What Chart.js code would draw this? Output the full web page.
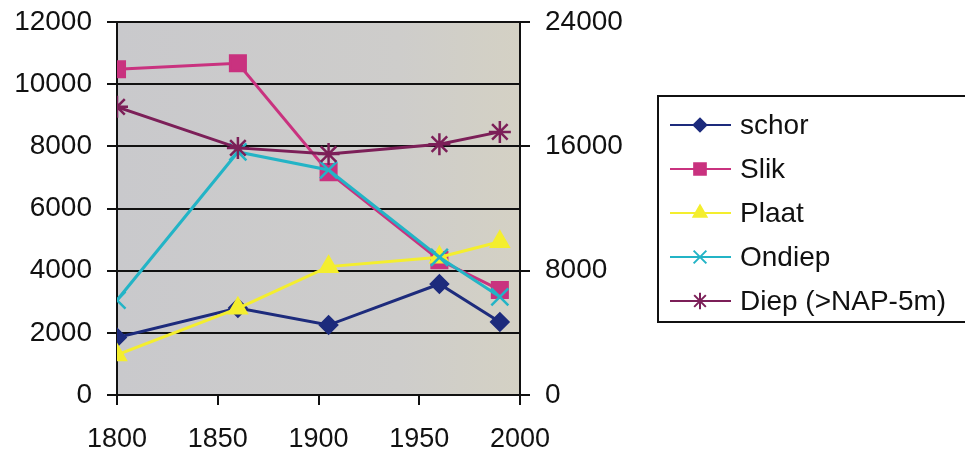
<!DOCTYPE html>
<html>
<head>
<meta charset="utf-8">
<script src="https://cdn.jsdelivr.net/npm/chart.js@4.4.0/dist/chart.umd.min.js"></script>
<style>
  html, body { margin: 0; padding: 0; background: #fff; }
  #wrap { width: 965px; height: 452px; position: relative; }
</style>
</head>
<body>
<div id="wrap"><canvas id="areaChart"></canvas></div>
<script>
// oppervlakte per zone (ha), Diep op de rechter as
const jaren  = [1800, 1860, 1905, 1960, 1990];
const schor  = [1850, 2800, 2250, 3570, 2350];
const slik   = [10480, 10670, 7170, 4340, 3380];
const plaat  = [1290, 2790, 4130, 4430, 4930];
const ondiep = [3050, 7820, 7240, 4430, 3160];
const diep   = [18540, 15900, 15500, 16140, 16930];

const FONT = "'Liberation Sans', Arial, sans-serif";

function punten(waarden) {
  return waarden.map((v, i) => ({ x: jaren[i], y: v }));
}

function reeks(label, waarden, kleur, stijl, straal, as, volgorde) {
  return {
    label: label,
    data: punten(waarden),
    borderColor: kleur,
    backgroundColor: kleur,
    borderWidth: 3,
    pointStyle: stijl,
    pointRadius: straal,
    pointBorderWidth: 2.5,
    pointBackgroundColor: kleur,
    pointBorderColor: kleur,
    yAxisID: as,
    order: volgorde,
    tension: 0
  };
}

// vaste breedte voor de y-assen, zonder extra ruimte boven/onder
function vastAs(breedte) {
  return s => {
    s.width = breedte;
    s.paddingTop = 0;
    s.paddingBottom = 0;
  };
}

// grijze achtergrond van het plotvlak
const achtergrond = {
  id: 'achtergrond',
  beforeDraw(chart) {
    const { ctx, chartArea: a } = chart;
    const g = ctx.createLinearGradient(a.left, 0, a.right, 0);
    g.addColorStop(0, '#c9c9cc');
    g.addColorStop(0.7, '#cecdcb');
    g.addColorStop(1, '#d4d1c4');
    ctx.save();
    ctx.fillStyle = g;
    ctx.fillRect(a.left, a.top, a.right - a.left, a.bottom - a.top);
    ctx.restore();
  }
};

// legenda met lijnstukje + marker, in een kader rechts
const legenda = {
  id: 'legenda',
  afterDraw(chart) {
    const ctx = chart.ctx;
    ctx.save();
    ctx.strokeStyle = '#111';
    ctx.lineWidth = 2;
    ctx.strokeRect(658, 96, 320, 226);
    chart.data.datasets.forEach((ds, i) => {
      const y = 125 + i * 44;
      ctx.strokeStyle = ds.borderColor;
      ctx.fillStyle = ds.borderColor;
      ctx.lineWidth = 2;
      ctx.beginPath();
      ctx.moveTo(670, y);
      ctx.lineTo(731, y);
      ctx.stroke();
      Chart.helpers.drawPoint(ctx, {
        pointStyle: ds.pointStyle,
        rotation: 0,
        radius: ds.pointRadius * 0.75,
        borderWidth: 2
      }, 700, y);
      ctx.fillStyle = '#111';
      ctx.font = '28px ' + FONT;
      ctx.textAlign = 'left';
      ctx.textBaseline = 'middle';
      ctx.fillText(ds.label, 740, y + 1);
    });
    ctx.restore();
  }
};

const ctx = document.getElementById('areaChart');
new Chart(ctx, {
  type: 'line',
  data: {
    datasets: [
      reeks('schor', schor, '#1d2b7c', 'rectRot', 8.5, 'y', 5),
      reeks('Slik', slik, '#c9327f', 'rect', 11, 'y', 4),
      reeks('Plaat', plaat, '#f4ee2e', 'triangle', 10, 'y', 3),
      reeks('Ondiep', ondiep, '#23b4c6', 'crossRot', 12, 'y', 2),
      reeks('Diep (>NAP-5m)', diep, '#7c1f58', 'star', 11, 'y2', 1)
    ]
  },
  options: {
    responsive: true,
    maintainAspectRatio: false,
    animation: false,
    layout: { padding: { top: 22, left: 0, right: 325, bottom: 0 } },
    plugins: {
      legend: { display: false },
      tooltip: { enabled: false }
    },
    scales: {
      x: {
        type: 'linear',
        min: 1800,
        max: 2000,
        afterFit: s => { s.height = 57; },
        ticks: {
          stepSize: 50,
          padding: 18,
          color: '#111',
          font: { family: FONT, size: 27 },
          callback: v => String(v)
        },
        grid: { drawOnChartArea: false, drawTicks: true, tickLength: 10, color: '#111', lineWidth: 2 },
        border: { display: true, color: '#111', width: 2 }
      },
      y: {
        position: 'left',
        min: 0,
        max: 12000,
        afterFit: vastAs(117),
        ticks: {
          stepSize: 2000,
          padding: 15,
          color: '#111',
          font: { family: FONT, size: 28 },
          callback: v => String(v)
        },
        grid: { drawTicks: true, tickLength: 10, color: '#111', lineWidth: 2 },
        border: { display: true, color: '#111', width: 2 }
      },
      y2: {
        position: 'right',
        min: 0,
        max: 24000,
        afterFit: vastAs(120),
        ticks: {
          stepSize: 8000,
          padding: 15,
          color: '#111',
          font: { family: FONT, size: 28 },
          callback: v => String(v)
        },
        grid: { drawOnChartArea: false, drawTicks: true, tickLength: 10, color: '#111', lineWidth: 2 },
        border: { display: true, color: '#111', width: 2 }
      }
    }
  },
  plugins: [achtergrond, legenda]
});
</script>
</body>
</html>
